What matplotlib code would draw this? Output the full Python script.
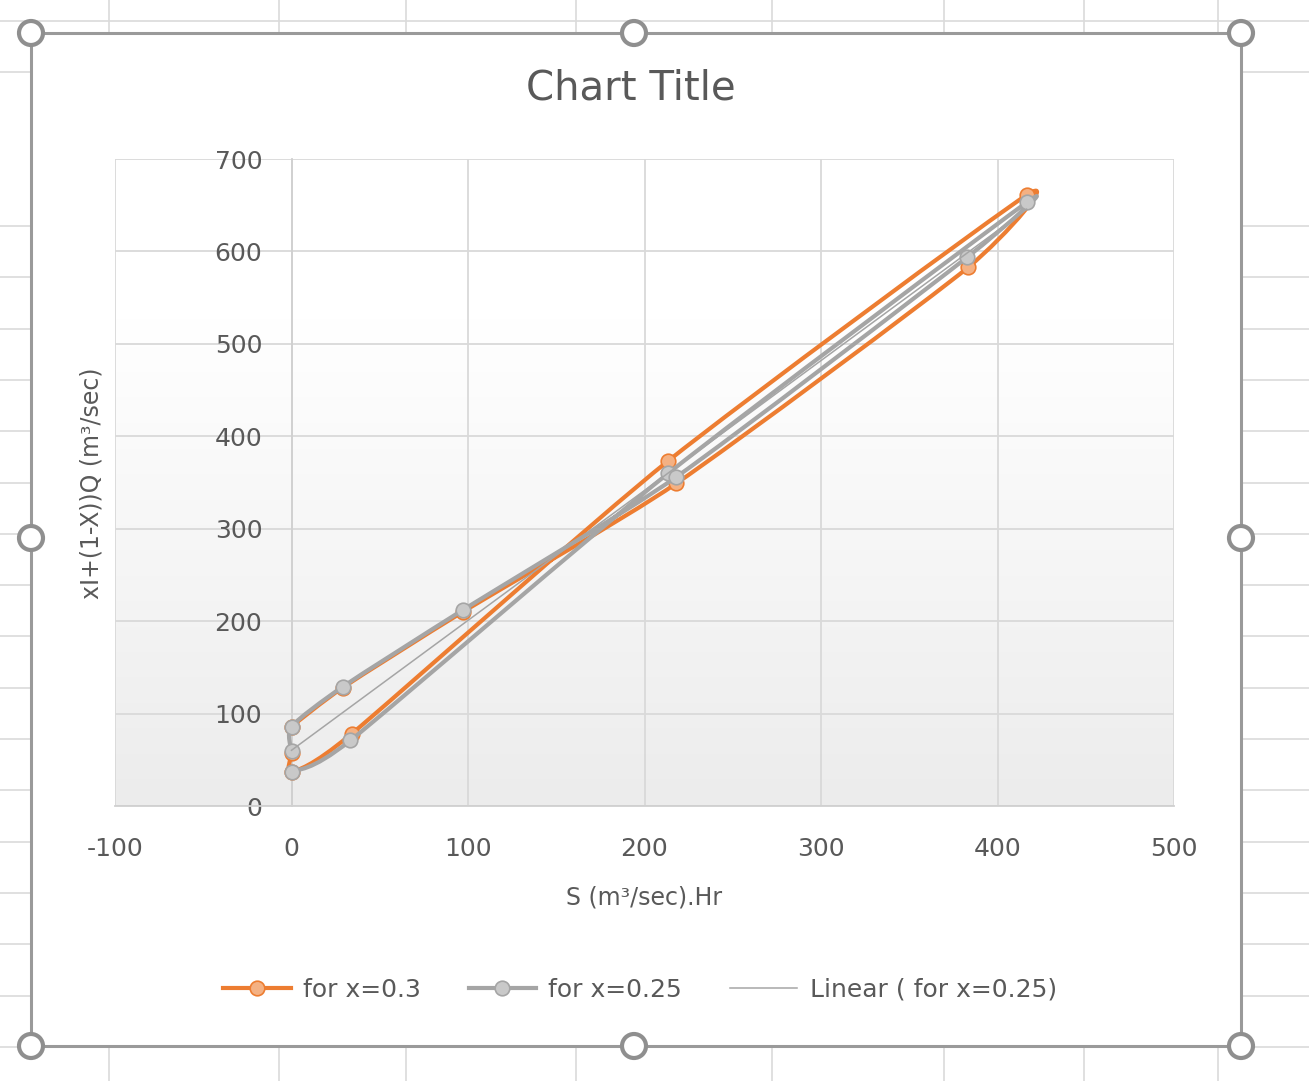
import numpy as np
import matplotlib
matplotlib.use("Agg")
import matplotlib.pyplot as plt
from matplotlib.path import Path
from matplotlib.patches import PathPatch, Rectangle, Ellipse
from matplotlib.lines import Line2D
from matplotlib.colors import LinearSegmentedColormap

plt.rcParams["axes.unicode_minus"] = False

# ---------------- data ----------------
s_x03 = [0, 0, 34, 213.5, 416.5, 383.5, 218, 97, 29, 0]
v_x03 = [57, 37, 78, 373.5, 661, 583, 349, 210, 128, 86]
s_x025 = [0, 33.4, 213.5, 416.5, 383, 218, 97, 29, 0, 0]
v_x025 = [37, 71, 360, 653, 594, 356, 212, 129, 86, 59]
series_labels = ["for x=0.3", "for x=0.25", "Linear ( for x=0.25)"]
x_ticks = [-100, 0, 100, 200, 300, 400, 500]
y_ticks = [0, 100, 200, 300, 400, 500, 600, 700]

# ---------------- figure ----------------
W, H = 1309, 1081
fig = plt.figure(figsize=(W / 100, H / 100), dpi=100)
fig.patch.set_facecolor("white")
TXT = "#595959"
ORANGE = "#ED7D31"
GRAY = "#A5A5A5"


def fx(px):
    return px / W


def fy(py):
    return 1 - py / H


# spreadsheet grid in the background
sheet_cols = [109, 279, 406, 576, 772, 944, 1084, 1218]
sheet_rows = [21, 72] + [226 + 51.3 * k for k in range(17)]
for c in sheet_cols:
    fig.add_artist(Line2D([fx(c), fx(c)], [0, 1], transform=fig.transFigure,
                          color="#dadada", lw=1.2, zorder=-3))
for r in sheet_rows:
    fig.add_artist(Line2D([0, 1], [fy(r), fy(r)], transform=fig.transFigure,
                          color="#dadada", lw=1.2, zorder=-3))

# chart area
cx0, cy0, cx1, cy1 = 31, 33, 1241, 1046
fig.add_artist(Rectangle((fx(cx0), fy(cy1)), fx(cx1) - fx(cx0), fy(cy0) - fy(cy1),
                         transform=fig.transFigure, facecolor="white",
                         edgecolor="#9a9a9a", lw=2.2, zorder=-2))
handle_pos = [(cx0, cy0), (634, cy0), (cx1, cy0),
              (cx0, 538), (cx1, 538),
              (cx0, cy1), (634, cy1), (cx1, cy1)]
for hx, hy in handle_pos:
    fig.add_artist(Ellipse((fx(hx), fy(hy)), 24 / W, 24 / H,
                           transform=fig.transFigure, facecolor="white",
                           edgecolor="#8f8f8f", lw=3.0, zorder=-1))

# plot area
ax = fig.add_axes([fx(115), fy(806), fx(1174) - fx(115), fy(159) - fy(806)])
ax.set_zorder(1)
ax.patch.set_alpha(0)
ax.set_xlim(-100, 500)
ax.set_ylim(0, 700)

grad_cmap = LinearSegmentedColormap.from_list(
    "g", [(0, "#ececec"), (0.75, "#ffffff"), (1, "#ffffff")])
grad = np.linspace(0, 1, 256).reshape(-1, 1)
ax.imshow(grad, extent=[0, 1, 0, 1], transform=ax.transAxes, aspect="auto",
          cmap=grad_cmap, origin="lower", zorder=0)

ax.set_xticks(x_ticks)
ax.set_yticks(y_ticks)
ax.grid(True, color="#d9d9d9", lw=1.3, zorder=0.5)
ax.set_axisbelow(True)
for sp in ["top", "right"]:
    ax.spines[sp].set_visible(False)
ax.spines["left"].set_position(("data", 0))
ax.spines["left"].set_color("#d0d0d0")
ax.spines["bottom"].set_color("#d0d0d0")
ax.spines["left"].set_linewidth(1.3)
ax.spines["bottom"].set_linewidth(1.3)
ax.tick_params(axis="both", length=0, labelsize=18, labelcolor=TXT)
ax.tick_params(axis="y", pad=21)
ax.tick_params(axis="x", pad=22)


def smooth_path(xs, ys, k=0.11):
    sx, sy = 1059 / 600, 647 / 700
    P = np.column_stack([np.asarray(xs, float) * sx, np.asarray(ys, float) * sy])
    n = len(P)
    verts = [P[0]]
    codes = [Path.MOVETO]
    for i in range(n - 1):
        p0 = P[i - 1] if i > 0 else P[i]
        p1 = P[i]
        p2 = P[i + 1]
        p3 = P[i + 2] if i + 2 < n else P[i + 1]
        c1 = p1 + (p2 - p0) * k
        c2 = p2 - (p3 - p1) * k
        verts += [c1, c2, p2]
        codes += [Path.CURVE4] * 3
    V = np.array(verts)
    V[:, 0] /= sx
    V[:, 1] /= sy
    return Path(V, codes)


LW = 3.0
ax.add_patch(PathPatch(smooth_path(s_x03, v_x03), fill=False, edgecolor=ORANGE,
                       lw=LW, zorder=3, capstyle="round", joinstyle="round"))
ax.plot(s_x03, v_x03, ls="none", marker="o", ms=10.5, mfc="#F4B183",
        mec=ORANGE, mew=1.2, zorder=4)
ax.add_patch(PathPatch(smooth_path(s_x025, v_x025), fill=False, edgecolor=GRAY,
                       lw=LW, zorder=5, capstyle="round", joinstyle="round"))
ax.plot(s_x025, v_x025, ls="none", marker="o", ms=10.5, mfc="#C9C9C9",
        mec=GRAY, mew=1.2, zorder=6)

coef = np.polyfit(s_x025, v_x025, 1)
xt = np.array([min(s_x025), max(s_x025)])
ax.plot(xt, np.polyval(coef, xt), color=GRAY, lw=1.1, zorder=7)

# texts
fig.text(fx(631), fy(88), "Chart Title", ha="center", va="center",
         fontsize=29, color=TXT)
fig.text(fx(644), fy(898), "S (m³/sec).Hr", ha="center", va="center",
         fontsize=17, color=TXT)
fig.text(fx(92), fy(483), "xI+(1-X))Q (m³/sec)", ha="center", va="center",
         rotation=90, fontsize=17, color=TXT)

handles = [
    Line2D([], [], color=ORANGE, lw=LW, marker="o", ms=10.5, mfc="#F4B183",
           mec=ORANGE, mew=1.2),
    Line2D([], [], color=GRAY, lw=LW, marker="o", ms=10.5, mfc="#C9C9C9",
           mec=GRAY, mew=1.2),
    Line2D([], [], color=GRAY, lw=1.1),
]
leg = fig.legend(handles, series_labels, loc="center",
                 bbox_to_anchor=(fx(640), fy(990)), ncol=3, frameon=False,
                 fontsize=18, handlelength=2.7, handletextpad=0.5,
                 columnspacing=1.9)
for t in leg.get_texts():
    t.set_color(TXT)

fig.savefig("out.png", dpi=100)
